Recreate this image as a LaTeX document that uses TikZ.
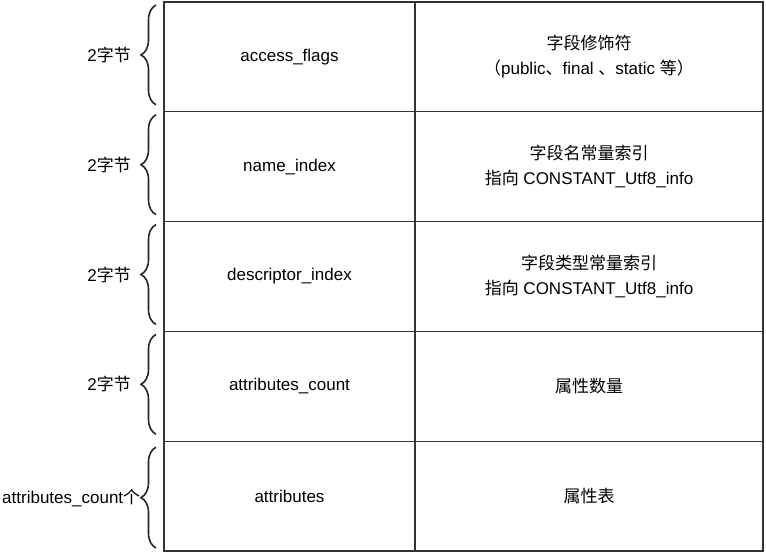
\documentclass[tikz,border=0pt]{standalone}
\usepackage{fontspec}
\setmainfont{Liberation Sans}
\newfontfamily\cjk{Noto Sans CJK SC}
\usetikzlibrary{positioning, decorations.pathreplacing}

\begin{document}
\begin{tikzpicture}[x=1pt, y=1pt, node distance=0pt and 0pt,
  cell/.style={draw=black!80, line width=1.3pt, align=center, font=\fontsize{17}{25}\selectfont,
    minimum height=109.8pt, inner sep=0pt, outer sep=0pt},
  key/.style={cell, minimum width=251pt},
  info/.style={cell, minimum width=348pt},
  brc/.style={decorate, decoration={brace, amplitude=15pt}, line width=1.6pt, draw=black!85},
  size/.style={font=\fontsize{17}{20}\selectfont, left=2pt}]
\useasboundingbox (0,0) rectangle (766,-554);
% field table
\node[key] (k1) at (289.5,-56.9) {access\_flags};
\node[info, right=of k1] (v1) {{\cjk 字段修饰符}\\{\cjk （}public{\cjk 、}final {\cjk 、}static {\cjk 等）}};
\node[key, below=of k1] (k2) {name\_index};
\node[info, right=of k2] (v2) {{\cjk 字段名常量索引}\\{\cjk 指向} CONSTANT\_Utf8\_info};
\node[key, below=of k2] (k3) {descriptor\_index};
\node[info, right=of k3] (v3) {{\cjk 字段类型常量索引}\\{\cjk 指向} CONSTANT\_Utf8\_info};
\node[key, below=of k3] (k4) {attributes\_count};
\node[info, right=of k4] (v4) {\cjk 属性数量};
\node[key, below=of k4] (k5) {attributes};
\node[info, right=of k5] (v5) {\cjk 属性表};
% sizes
\draw[brc] ([xshift=-8pt,yshift=7pt]k1.south west) -- ([xshift=-8pt,yshift=-3pt]k1.north west)
  node[midway, size, xshift=-19pt] (s1) {2{\cjk 字节}};
\draw[brc] ([xshift=-8pt,yshift=7pt]k2.south west) -- ([xshift=-8pt,yshift=-3pt]k2.north west)
  node[midway, size, xshift=-19pt] (s2) {2{\cjk 字节}};
\draw[brc] ([xshift=-8pt,yshift=7pt]k3.south west) -- ([xshift=-8pt,yshift=-3pt]k3.north west)
  node[midway, size, xshift=-19pt] (s3) {2{\cjk 字节}};
\draw[brc] ([xshift=-8pt,yshift=7pt]k4.south west) -- ([xshift=-8pt,yshift=-3pt]k4.north west)
  node[midway, size, xshift=-19pt] (s4) {2{\cjk 字节}};
\draw[brc] ([xshift=-8pt,yshift=3pt]k5.south west) -- ([xshift=-8pt,yshift=-6pt]k5.north west)
  node[midway, size, xshift=-13pt, inner xsep=0pt] (s5) {attributes\_count{\cjk 个}};
\end{tikzpicture}
\end{document}
